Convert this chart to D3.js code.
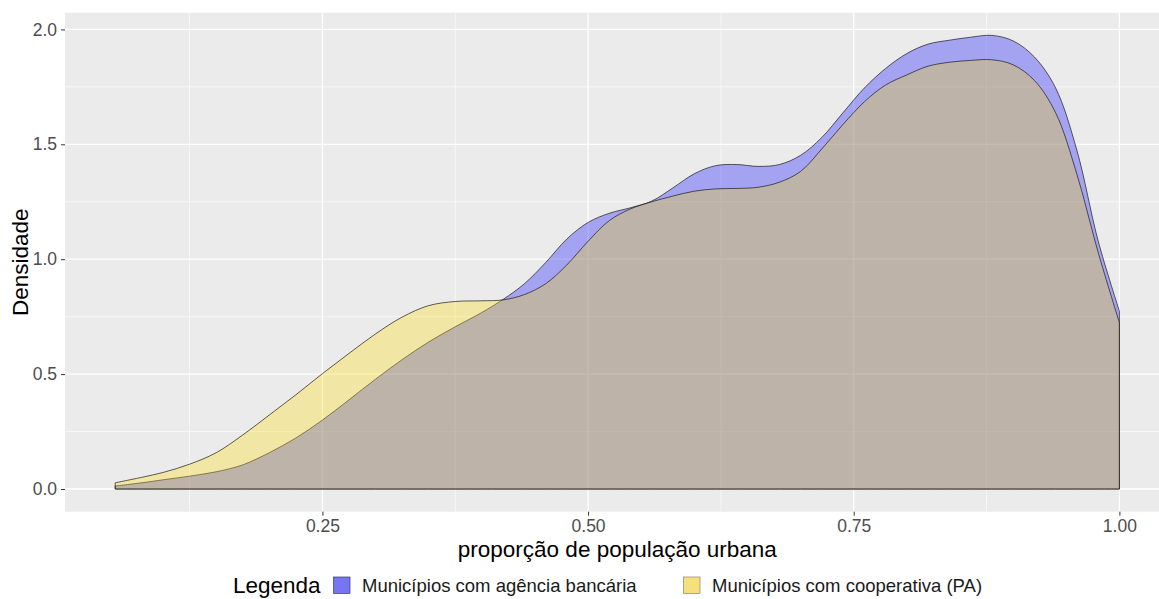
<!DOCTYPE html>
<html lang="pt">
<head>
<meta charset="utf-8">
<title>Densidade</title>
<script src="https://d3js.org/d3.v7.min.js"></script>
<style>
  body { margin: 0; background: #ffffff; }
  svg { display: block; font-family: "Liberation Sans", Arial, sans-serif; }
</style>
</head>
<body>
<div id="chart_div"></div>
<script>
"use strict";

// proporção de população urbana (grade comum)
var xGrid = [0.055, 0.08, 0.10, 0.125, 0.15, 0.175, 0.20, 0.225, 0.25, 0.275,
             0.30, 0.325, 0.35, 0.375, 0.40, 0.42, 0.44, 0.46, 0.48, 0.50,
             0.52, 0.54, 0.56, 0.58, 0.60, 0.62, 0.64, 0.66, 0.68, 0.70,
             0.72, 0.74, 0.76, 0.78, 0.80, 0.82, 0.84, 0.86, 0.88, 0.90,
             0.92, 0.94, 0.96, 0.98, 1.00];

// densidade - municípios com agência bancária
var agencia = [0.013, 0.027, 0.040, 0.056, 0.075, 0.105, 0.158, 0.222, 0.300, 0.388,
               0.478, 0.563, 0.640, 0.706, 0.768, 0.825, 0.893, 0.985, 1.088, 1.160,
               1.200, 1.224, 1.253, 1.311, 1.372, 1.407, 1.412, 1.404, 1.412, 1.452,
               1.530, 1.638, 1.745, 1.830, 1.895, 1.936, 1.953, 1.966, 1.974, 1.950,
               1.880, 1.745, 1.474, 1.080, 0.774];

// densidade - municípios com cooperativa (PA)
var cooperativa = [0.027, 0.051, 0.072, 0.108, 0.158, 0.235, 0.322, 0.410, 0.502, 0.590,
                   0.675, 0.748, 0.798, 0.816, 0.819, 0.823, 0.846, 0.893, 0.975, 1.078,
                   1.168, 1.219, 1.250, 1.275, 1.296, 1.306, 1.308, 1.313, 1.335, 1.382,
                   1.480, 1.587, 1.685, 1.758, 1.802, 1.840, 1.857, 1.865, 1.868, 1.846,
                   1.778, 1.637, 1.370, 1.030, 0.724];

var seriesNames = ["Municípios com agência bancária", "Municípios com cooperativa (PA)"];
var xTicks = [0.25, 0.50, 0.75, 1.00];
var xTickLabels = ["0.25", "0.50", "0.75", "1.00"];
var xMinor = [0.125, 0.375, 0.625, 0.875, 1.125];
var yTicks = [0, 0.5, 1.0, 1.5, 2.0];
var yTickLabels = ["0.0", "0.5", "1.0", "1.5", "2.0"];
var yMinor = [0.25, 0.75, 1.25, 1.75];

var svg_width = 1159;
var svg_height = 599;
var panel = { left: 65, top: 12.7, right: 1169.6, bottom: 511.7 };

var svg = d3.select("#chart_div").append("svg")
    .attr("width", svg_width)
    .attr("height", svg_height);

// ggplot-like 5% expansion
var xLo = d3.min(xGrid), xHi = d3.max(xGrid);
var xPad = (xHi - xLo) * 0.05;
var xscale = d3.scaleLinear()
    .domain([xLo - xPad, xHi + xPad])
    .range([panel.left, panel.right]);

var yHi = d3.max(agencia.concat(cooperativa));
var yscale = d3.scaleLinear()
    .domain([-yHi * 0.05, yHi * 1.05])
    .range([panel.bottom, panel.top]);

// panel
svg.append("rect")
    .attr("x", panel.left).attr("y", panel.top)
    .attr("width", panel.right - panel.left)
    .attr("height", panel.bottom - panel.top)
    .attr("fill", "#EBEBEB");

var grid = svg.append("g");
grid.selectAll("line.ymin").data(yMinor).enter().append("line")
    .attr("x1", panel.left).attr("x2", panel.right)
    .attr("y1", function(d) { return yscale(d); })
    .attr("y2", function(d) { return yscale(d); })
    .attr("stroke", "#ffffff").attr("stroke-width", 0.6);
grid.selectAll("line.xmin").data(xMinor).enter().append("line")
    .attr("y1", panel.top).attr("y2", panel.bottom)
    .attr("x1", function(d) { return xscale(d); })
    .attr("x2", function(d) { return xscale(d); })
    .attr("stroke", "#ffffff").attr("stroke-width", 0.6);
grid.selectAll("line.ymaj").data(yTicks).enter().append("line")
    .attr("x1", panel.left).attr("x2", panel.right)
    .attr("y1", function(d) { return yscale(d); })
    .attr("y2", function(d) { return yscale(d); })
    .attr("stroke", "#ffffff").attr("stroke-width", 1.3);
grid.selectAll("line.xmaj").data(xTicks).enter().append("line")
    .attr("y1", panel.top).attr("y2", panel.bottom)
    .attr("x1", function(d) { return xscale(d); })
    .attr("x2", function(d) { return xscale(d); })
    .attr("stroke", "#ffffff").attr("stroke-width", 1.3);

// density areas
var area = d3.area()
    .x(function(d) { return xscale(d[0]); })
    .y0(yscale(0))
    .y1(function(d) { return yscale(d[1]); })
    .curve(d3.curveCatmullRom.alpha(0.5));

var fills = ["rgba(55,55,252,0.40)", "rgba(255,218,0,0.30)"];
var seriesData = [agencia, cooperativa];

svg.append("g").selectAll("path")
    .data(seriesData)
    .enter()
    .append("path")
    .attr("d", function(vals) {
        var pts = xGrid.map(function(x, i) { return [x, vals[i]]; });
        return area(pts) + "";
    })
    .attr("fill", function(d, i) { return fills[i]; })
    .attr("stroke", "#1a1a1a")
    .attr("stroke-width", 0.7)
    .attr("stroke-linejoin", "round");

// axes
var xaxis = d3.axisBottom(xscale)
    .tickValues(xTicks)
    .tickSize(4)
    .tickPadding(4)
    .tickFormat(function(d, i) { return xTickLabels[i]; });
var gx = svg.append("g")
    .attr("transform", "translate(0," + panel.bottom + ")")
    .call(xaxis);
gx.select(".domain").remove();
gx.selectAll(".tick line").attr("stroke", "#333333").attr("stroke-width", 1);
gx.selectAll(".tick text")
    .attr("fill", "#4D4D4D")
    .style("font-size", "17.5px")
    .style("font-family", "'Liberation Sans', Arial, sans-serif");

var yaxis = d3.axisLeft(yscale)
    .tickValues(yTicks)
    .tickSize(4)
    .tickPadding(4)
    .tickFormat(function(d, i) { return yTickLabels[i]; });
var gy = svg.append("g")
    .attr("transform", "translate(" + panel.left + ",0)")
    .call(yaxis);
gy.select(".domain").remove();
gy.selectAll(".tick line").attr("stroke", "#333333").attr("stroke-width", 1);
gy.selectAll(".tick text")
    .attr("fill", "#4D4D4D")
    .style("font-size", "17.5px")
    .style("font-family", "'Liberation Sans', Arial, sans-serif");

// axis titles
svg.append("text")
    .attr("x", (panel.left + panel.right) / 2)
    .attr("y", 557)
    .attr("text-anchor", "middle")
    .style("font-size", "22.5px")
    .attr("fill", "#000")
    .text("proporção de população urbana");

svg.append("text")
    .attr("transform", "translate(28," + ((panel.top + panel.bottom) / 2) + ") rotate(-90)")
    .attr("text-anchor", "middle")
    .style("font-size", "22.5px")
    .attr("fill", "#000")
    .text("Densidade");

// legend
var legend = svg.append("g");
legend.append("text")
    .attr("x", 233).attr("y", 593)
    .style("font-size", "22.5px")
    .attr("fill", "#000")
    .text("Legenda");

var keyX = [333.5, 683.5];
var keyFill = ["#7676F2", "#F6E07C"];
var keyStroke = ["#3a3a6a", "#8a8470"];
var keys = legend.selectAll("g.key").data(seriesNames).enter().append("g");
keys.append("rect")
    .attr("x", function(d, i) { return keyX[i]; })
    .attr("y", 577)
    .attr("width", 16.5).attr("height", 16.5)
    .attr("fill", function(d, i) { return keyFill[i]; })
    .attr("stroke", function(d, i) { return keyStroke[i]; })
    .attr("stroke-width", 0.7);
keys.append("text")
    .attr("x", function(d, i) { return keyX[i] + 28.5; })
    .attr("y", 592)
    .style("font-size", "18.5px")
    .attr("fill", "#1a1a1a")
    .text(function(d) { return d; });
</script>
</body>
</html>
